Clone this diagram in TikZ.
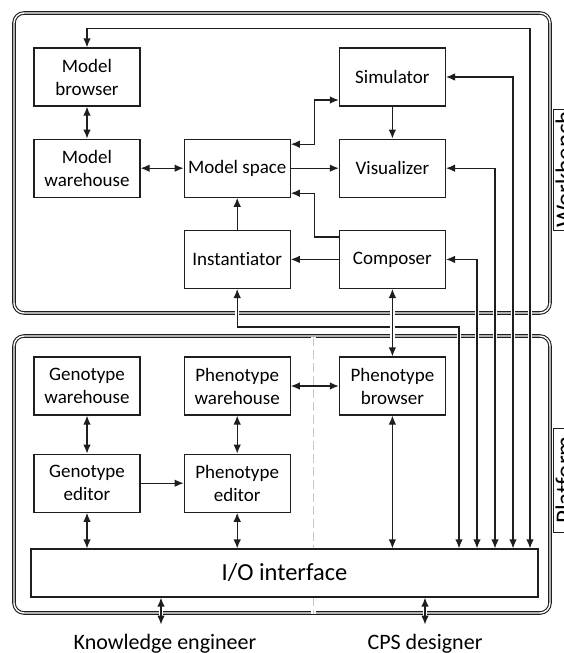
\documentclass[tikz,border=0pt]{standalone}
\usepackage{fontspec}
\setmainfont{Carlito}[Ligatures=NoCommon]
\usetikzlibrary{arrows.meta,positioning}
\definecolor{linec}{HTML}{1E1E1E}
\definecolor{sepc}{HTML}{C8C8C8}

\tikzset{
  box/.style={draw=linec, fill=white, line width=1.2pt, minimum width=106pt, minimum height=58pt,
    align=center, inner sep=2pt, font=\fontsize{19}{23}\selectfont},
  link/.style={draw=linec, line width=1.2pt},
  halo/.style={preaction={draw=white, line width=4.5pt, solid, -}},
  frame/.style={draw=linec, line width=1.1pt, double=white, double distance=1.4pt, rounded corners=10pt},
  side/.style={draw=linec, line width=1pt, rotate=90, anchor=north, inner xsep=0pt, inner ysep=2pt,
    font=\fontsize{25}{25}\selectfont},
  actor/.style={anchor=base, inner xsep=0pt, inner ysep=9pt, font=\fontsize{22}{22}\selectfont},
  sep/.style={draw=sepc, line width=1.5pt, dash pattern=on 9pt off 4pt}
}

\begin{document}
\begin{tikzpicture}[x=1pt, y=-1pt, >={Latex[length=9pt,width=7.5pt]}]
\useasboundingbox (0,0) rectangle (564,653);

% workbench and platform
\draw[frame] (14,13) rectangle (550,313);
\draw[frame] (14,336) rectangle (550,613);
\draw[sep, halo] (313.5,337) -- (313.5,614);
\node[side, minimum width=121pt] (wbl) at (553,169.5) {Workbench};
\node[side, minimum width=104pt] (pfl) at (553,480) {Platform};

% workbench nodes
\node[box] (mb) at (87,77) {Model\\browser};
\node[box, below=32pt of mb] (mw) {Model\\warehouse};
\node[box, right=43pt of mw] (ms) {Model space};
\node[box, right=48pt of ms] (vis) {Visualizer};
\node[box, above=32pt of vis] (sim) {Simulator};
\node[box, below=32pt of ms] (inst) {Instantiator};
\node[box, below=32pt of vis] (comp) {Composer};

% platform nodes
\node[box] (gw) at (87,386) {Genotype\\warehouse};
\node[box, right=43pt of gw] (pw) {Phenotype\\warehouse};
\node[box, right=48pt of pw] (pb) {Phenotype\\browser};
\node[box, below=38pt of gw] (ge) {Genotype\\editor};
\node[box, below=38pt of pw] (pe) {Phenotype\\editor};
\node[box, minimum width=507pt, minimum height=48pt, font=\fontsize{24.5}{24.5}\selectfont] (io) at (284.5,573) {I/O interface};

\node[actor] (ke) at (165,649) {Knowledge engineer};
\node[actor] (cps) at (425,649) {CPS designer};

% inside the workbench
\draw[link,<->] (mb) -- (mw);
\draw[link,<->] (mw) -- (ms);
\draw[link,<->] ([yshift=24pt]ms.east) -- ++(24pt,0) |- ([yshift=-23pt]sim.west);
\draw[link,->] (ms) -- (vis);
\draw[link,->] (sim) -- (vis);
\draw[link,->] (inst) -- (ms);
\draw[link,->] (comp) -- (inst);
\draw[link,->] ([yshift=22.5pt]comp.west) -- ++(-24pt,0) |- ([yshift=-25pt]ms.east);

% lines down to the I/O interface
\draw[link,<->,halo] (inst.south) -- ++(0,-38pt) -| ([xshift=174.5pt]io.north);
\draw[link,<->,halo] ([xshift=192.5pt]io.north) |- (comp);
\draw[link,<->,halo] ([xshift=210.5pt]io.north) |- (vis);
\draw[link,<->,halo] ([xshift=228.5pt]io.north) |- (sim);
\draw[link,<->,halo] ([xshift=245.5pt]io.north) -- ++(0,520pt) -| (mb);
\draw[link,<->,halo] (comp) -- (pb);

% inside the platform
\draw[link,<->] (gw) -- (ge);
\draw[link,<->] (pw) -- (pe);
\draw[link,->] (ge) -- (pe);
\draw[link,<->] (pw) -- (pb);
\draw[link,<->] (ge) -- (ge |- io.north);
\draw[link,<->] (pe) -- (pe |- io.north);
\draw[link,<->] (pb) -- (pb |- io.north);

% users
\draw[link,<->,halo] ([xshift=-4pt]ke.north |- io.south) -- ([xshift=-4pt]ke.north);
\draw[link,<->,halo] (cps.north |- io.south) -- (cps.north);
\end{tikzpicture}
\end{document}
